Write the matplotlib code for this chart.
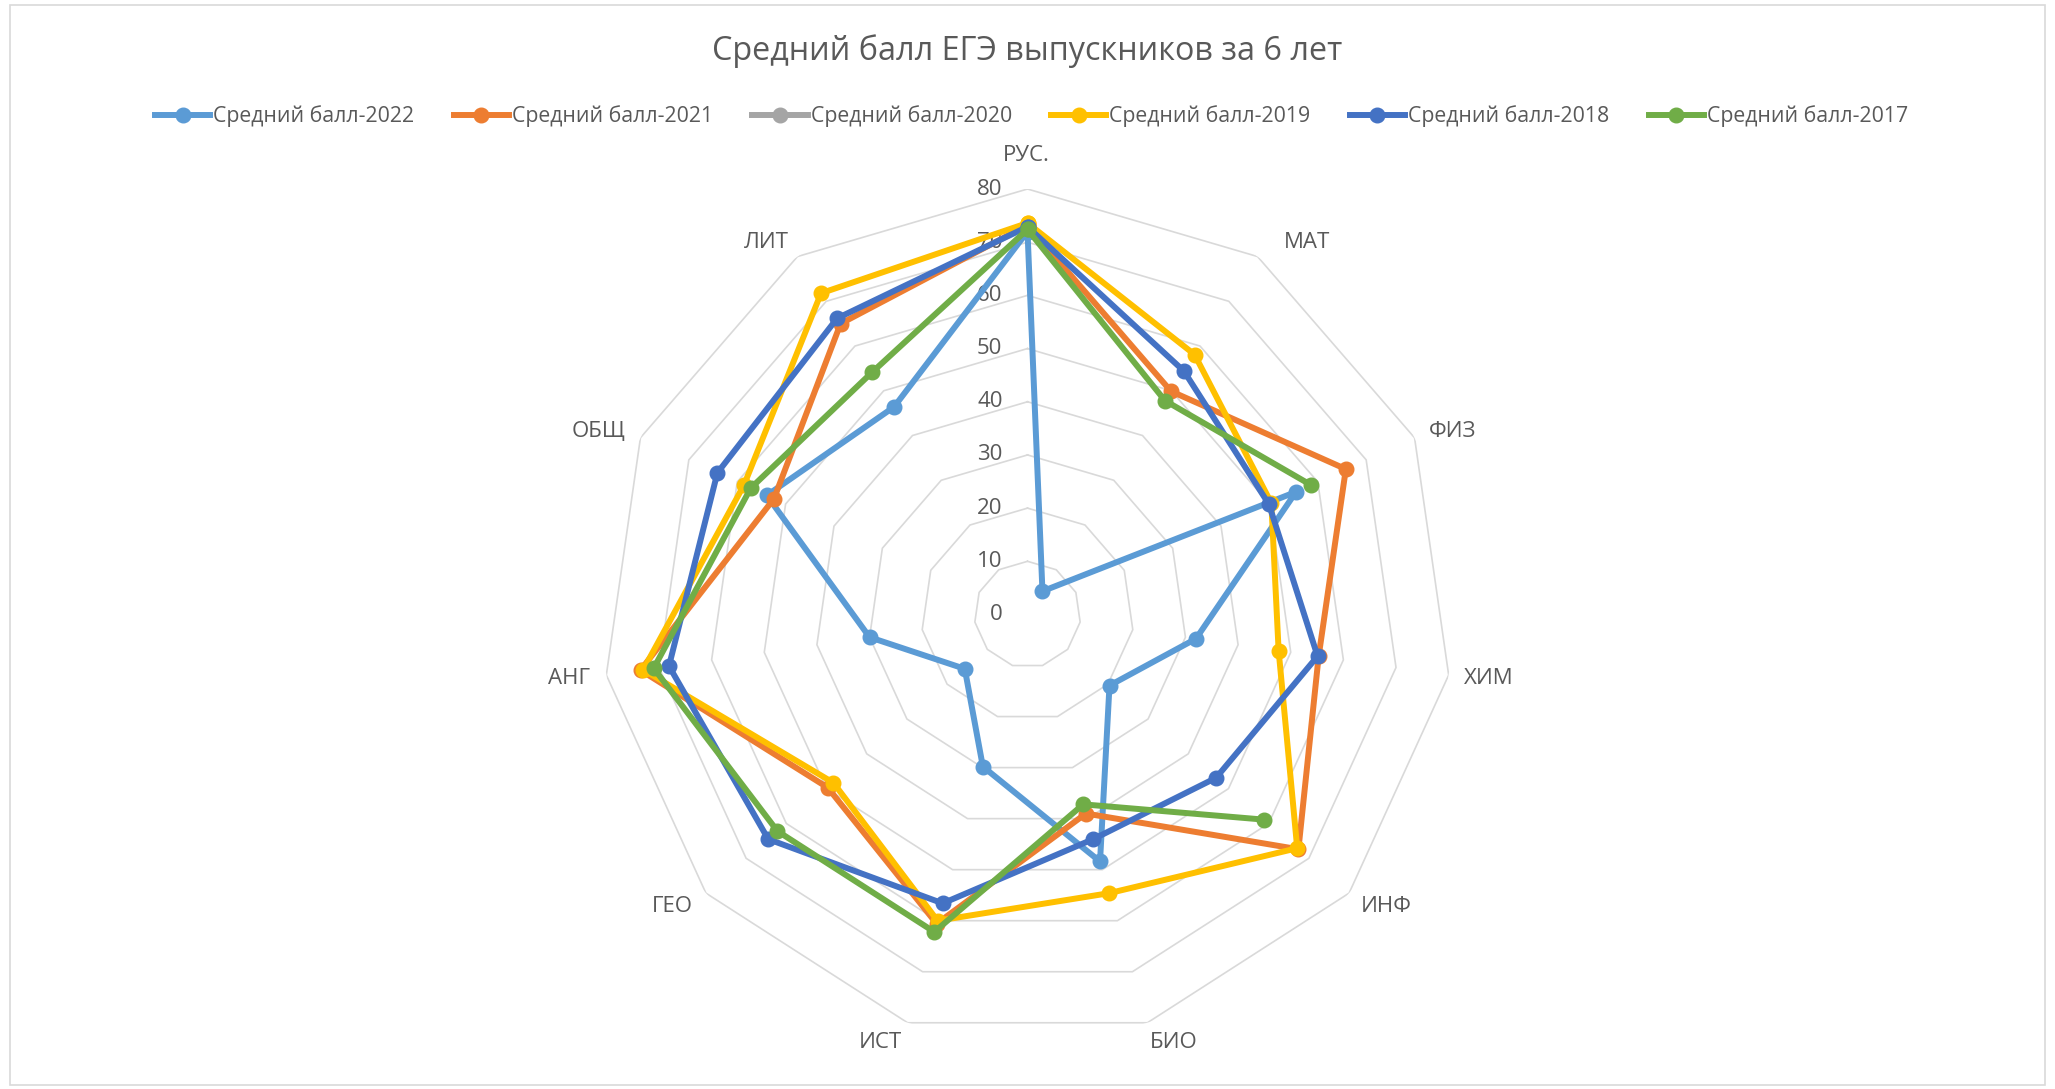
import numpy as np
import matplotlib.pyplot as plt
from matplotlib.lines import Line2D
from matplotlib.patches import Rectangle
from matplotlib.transforms import ScaledTranslation

plt.rcParams['font.family'] = ['Open Sans', 'DejaVu Sans']

categories = ['РУС.', 'МАТ', 'ФИЗ', 'ХИМ', 'ИНФ', 'БИО', 'ИСТ', 'ГЕО', 'АНГ', 'ОБЩ', 'ЛИТ']
nan = np.nan
ball_2022 = [72.0, 5.2, 55.5, 32.0, 20.4, 48.4, 29.8, 15.6, 30.0, 53.9, 46.4]
ball_2021 = [73.2, 49.9, 65.8, 55.3, 67.4, 39.0, 60.6, 49.7, 73.5, 52.4, 65.0]
ball_2020 = [nan] * 11
ball_2019 = [73.6, 58.1, 50.4, 47.7, 67.1, 54.6, 60.0, 48.3, 73.0, 58.6, 71.8]
ball_2018 = [72.9, 54.4, 49.9, 55.1, 46.9, 44.0, 56.6, 64.5, 68.1, 64.1, 66.2]
ball_2017 = [72.4, 47.8, 58.6, nan, 58.9, 37.2, 62.2, 62.2, 71.0, 57.2, 54.1]
series_names = ['Средний балл-2022', 'Средний балл-2021', 'Средний балл-2020',
                'Средний балл-2019', 'Средний балл-2018', 'Средний балл-2017']
series_vals = [ball_2022, ball_2021, ball_2020, ball_2019, ball_2018, ball_2017]
colors = ['#5B9BD5', '#ED7D31', '#A5A5A5', '#FFC000', '#4472C4', '#70AD47']
rings = [10, 20, 30, 40, 50, 60, 70, 80]
ring_labels = ['0', '10', '20', '30', '40', '50', '60', '70', '80']

# pixel offsets of the category labels from the outer ring vertex (x right, y up)
lab_off = [(-1, 34), (50, 14), (38, 6), (40, -3), (37, -13), (26, -20),
           (-27, -20), (-34, -13), (-37, -3), (-42, 6), (-31, 14)]

txt = '#595959'
W, H = 2055, 1089
fig = plt.figure(figsize=(W / 100, H / 100), dpi=100)
fig.patches.append(Rectangle((10 / W, 4 / H), 2035 / W, 1080 / H, transform=fig.transFigure,
                             fill=False, edgecolor='#D9D9D9', linewidth=1.2))

ax = fig.add_axes([602 / W, 49 / H, 851 / W, 851 / H], projection='polar')
ax.set_theta_zero_location('N')
ax.set_theta_direction(-1)
ax.set_ylim(0, 80)
ax.set_xticks([])
ax.set_yticks([])
ax.grid(False)
ax.spines['polar'].set_visible(False)
ax.patch.set_alpha(0)

n = len(categories)
theta = np.arange(n) * 2 * np.pi / n
theta_c = np.append(theta, theta[0])

# polygon gridlines
for r in rings:
    ax.plot(theta_c, [r] * (n + 1), color='#D9D9D9', lw=1.2, zorder=1)

# radial labels left of the top axis
off = ScaledTranslation(-0.25, 0, fig.dpi_scale_trans)
for i, lab in enumerate(ring_labels):
    ax.text(0, i * 10, lab, transform=ax.transData + off, ha='right', va='center',
            fontsize=16, color=txt)

# category labels
for t, c, (dx, dy) in zip(theta, categories, lab_off):
    tr = ax.transData + ScaledTranslation(dx / 100, dy / 100, fig.dpi_scale_trans)
    ax.text(t, 80, c, transform=tr, ha='center', va='center', fontsize=16, color=txt)

handles = []
for name, vals, col in zip(series_names, series_vals, colors):
    v = np.append(vals, vals[0])
    ax.plot(theta_c, v, color=col, lw=4.3, marker='o', ms=10.5, zorder=3,
            solid_joinstyle='round', clip_on=False)
    handles.append(Line2D([], [], color=col, lw=4.3, marker='o', ms=10.5))

fig.text(0.5, 1 - 51 / H, 'Средний балл ЕГЭ выпускников за 6 лет', ha='center', va='center',
         fontsize=23.3, color=txt)
fig.legend(handles, series_names, loc='center', bbox_to_anchor=(0.502, 1 - 116 / H), ncol=6,
           frameon=False, fontsize=15.3, handlelength=2.6, handletextpad=0.14,
           columnspacing=1.85, labelcolor=txt)

fig.savefig('out.png', dpi=100)
